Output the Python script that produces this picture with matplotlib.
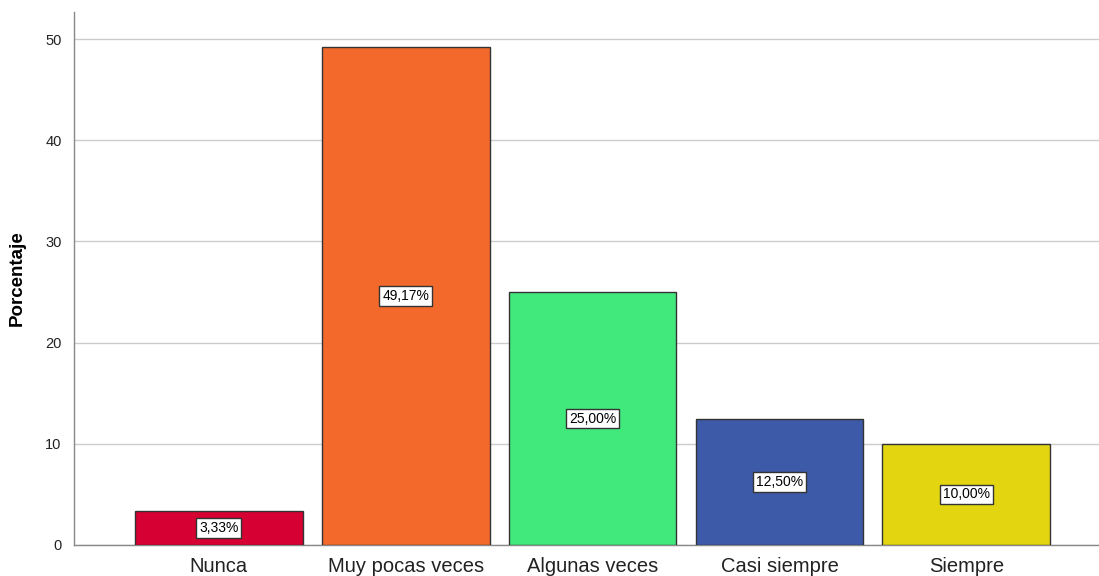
import matplotlib.pyplot as plt
import numpy as np

plt.rcParams["font.family"] = ["Liberation Sans", "DejaVu Sans"]

categories = ["Nunca", "Muy pocas veces", "Algunas veces", "Casi siempre", "Siempre"]
percentages = [3.33, 49.17, 25.00, 12.50, 10.00]
bar_colors = ["#d70032", "#f3692c", "#41e97c", "#3d5aa8", "#e3d50f"]

fig = plt.figure(figsize=(10.99, 5.76), dpi=100, facecolor="white")
ax = fig.add_axes([74 / 1099, 1 - 545 / 576, 1 - 74 / 1099, (545 - 12) / 576])

x = np.arange(len(categories))
ax.bar(x, percentages, width=0.898, color=bar_colors, edgecolor="#333333", linewidth=1, zorder=3)

for xi, v in zip(x, percentages):
    ax.text(xi, v / 2, f"{v:.2f}%".replace(".", ","), ha="center", va="center", fontsize=10,
            color="black", zorder=4,
            bbox=dict(boxstyle="square,pad=0.2", facecolor="white", edgecolor="#333333", linewidth=1))

ax.set_xlim(-0.775, 4.71)
ax.set_ylim(0, 52.67)
ax.set_yticks([0, 10, 20, 30, 40, 50])
ax.set_xticks(x)
ax.set_xticklabels(categories, fontsize=14.5, color="#222222")
ax.tick_params(axis="y", labelsize=10.5, colors="#222222", length=0, pad=9)
ax.tick_params(axis="x", length=0, pad=9)
ax.yaxis.grid(True, color="#cccccc", linewidth=1, zorder=0)
ax.set_axisbelow(True)
ax.set_ylabel("Porcentaje", fontsize=13.5, fontweight="bold", labelpad=14)

for side in ["top", "right"]:
    ax.spines[side].set_visible(False)
for side in ["left", "bottom"]:
    ax.spines[side].set_color("#888888")
    ax.spines[side].set_linewidth(1)

fig.savefig("out.png", dpi=100, facecolor="white")
